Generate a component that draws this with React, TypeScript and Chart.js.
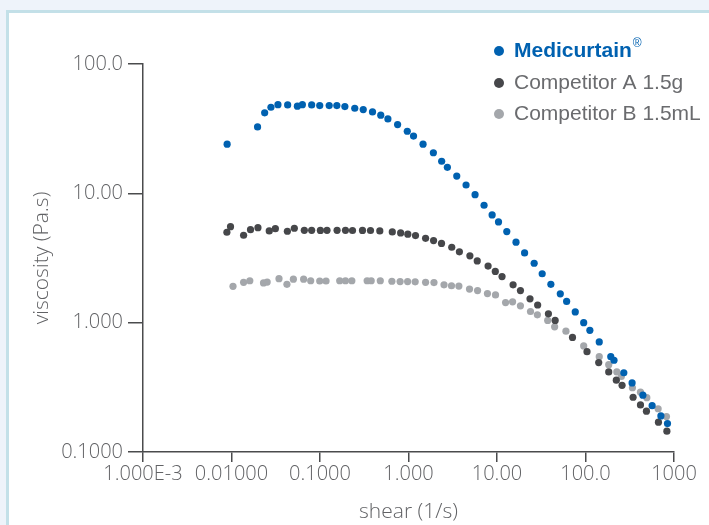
import React, { useEffect, useRef } from "react";
import { Chart, registerables } from "chart.js";

Chart.register(...registerables);

const seriesNames = ["Medicurtain", "Competitor A 1.5g", "Competitor B 1.5mL"];
const seriesColors = ["#0061b0", "#46474a", "#a4a7ab"];

const xTickValues = [0.001, 0.01, 0.1, 1, 10, 100, 1000];
const xTickLabels = ["1.000E-3", "0.01000", "0.1000", "1.000", "10.00", "100.0", "1000"];
const yTickValues = [0.1, 1, 10, 100];
const yTickLabels = ["0.1000", "1.000", "10.00", "100.0"];

const medX = [0.00893, 0.0197, 0.0237, 0.0279, 0.0335, 0.0431, 0.0555, 0.0632, 0.0805, 0.0993, 0.127, 0.155, 0.191, 0.247, 0.308, 0.392, 0.486, 0.585, 0.753, 0.969, 1.14, 1.46, 1.91, 2.37, 2.75, 3.51, 4.47, 5.65, 7.14, 8.81, 10.4, 12.9, 16.4, 20.5, 26.3, 32.4, 40.6, 51.9, 61.2, 76.6, 95.4, 112, 143, 193, 210, 271, 336, 445, 566, 711, 844];
const medY = [24.0, 32.6, 41.9, 46.3, 48.5, 48.3, 47.2, 48.5, 48.3, 47.7, 47.7, 47.7, 46.9, 45.5, 44.4, 42.6, 40.2, 37.6, 34.0, 30.2, 27.7, 24.0, 20.6, 17.7, 15.9, 13.6, 11.6, 9.77, 8.09, 6.81, 6.01, 5.06, 4.19, 3.46, 2.88, 2.39, 1.98, 1.67, 1.46, 1.21, 1.0, 0.873, 0.71, 0.546, 0.512, 0.41, 0.342, 0.275, 0.228, 0.19, 0.166];

const aX = [0.00887, 0.00975, 0.0137, 0.0164, 0.0199, 0.0267, 0.0313, 0.0428, 0.0513, 0.0665, 0.0805, 0.101, 0.12, 0.156, 0.194, 0.233, 0.302, 0.372, 0.474, 0.656, 0.815, 0.982, 1.2, 1.56, 1.92, 2.36, 3.08, 3.76, 4.94, 5.98, 7.93, 9.57, 11.4, 15.2, 18.4, 23.6, 28.8, 38.1, 45.4, 71.3, 104, 141, 183, 223, 259, 345, 418, 488, 667, 831];
const aY = [5.0, 5.52, 4.74, 5.24, 5.43, 5.12, 5.33, 5.09, 5.37, 5.18, 5.18, 5.17, 5.18, 5.18, 5.18, 5.16, 5.17, 5.16, 5.12, 5.03, 4.94, 4.83, 4.71, 4.49, 4.31, 4.1, 3.83, 3.53, 3.29, 3.0, 2.74, 2.49, 2.27, 1.96, 1.77, 1.53, 1.37, 1.17, 1.04, 0.769, 0.597, 0.491, 0.416, 0.359, 0.328, 0.265, 0.231, 0.207, 0.17, 0.145];

const bX = [0.0104, 0.0137, 0.0161, 0.023, 0.0253, 0.0344, 0.0423, 0.05, 0.0653, 0.0785, 0.0993, 0.117, 0.167, 0.194, 0.229, 0.341, 0.379, 0.48, 0.649, 0.804, 0.977, 1.19, 1.56, 1.94, 2.52, 3.06, 3.71, 4.89, 6.03, 7.8, 9.62, 12.5, 15.0, 18.4, 23.9, 28.6, 37.4, 44.8, 60.1, 95.4, 143, 183, 226, 254, 339, 418, 493, 662, 822];
const bY = [1.91, 2.05, 2.11, 2.03, 2.06, 2.19, 1.98, 2.17, 2.17, 2.11, 2.1, 2.1, 2.11, 2.11, 2.11, 2.11, 2.11, 2.11, 2.09, 2.08, 2.08, 2.07, 2.05, 2.04, 1.96, 1.93, 1.92, 1.82, 1.77, 1.68, 1.64, 1.43, 1.45, 1.35, 1.22, 1.15, 1.04, 0.929, 0.859, 0.661, 0.546, 0.473, 0.416, 0.384, 0.314, 0.29, 0.263, 0.216, 0.188];

const W = 709;
const H = 525;
const AXIS_COLOR = "#4a4b4d";
const TEXT_COLOR = "#616265";
const LEGEND_TEXT = "#6a6b6e";
const TICK_FONT = { family: "'Open Sans', sans-serif", size: 20, weight: "300" as any };
const TITLE_FONT = { family: "'Open Sans', sans-serif", size: 21, weight: "300" as any };

const pts = (xs: number[], ys: number[]) => xs.map((x, i) => ({ x, y: ys[i] }));

const framePlugin = {
  id: "frame",
  beforeDraw(chart: any) {
    const ctx = chart.ctx;
    ctx.save();
    ctx.fillStyle = "#eef3fa";
    ctx.fillRect(0, 0, W, H);
    ctx.fillStyle = "#c3e0e8";
    ctx.fillRect(6, 10, W - 6, H - 10);
    ctx.fillStyle = "#ffffff";
    ctx.fillRect(9, 13, W - 9, H - 13);
    ctx.restore();
  },
};

const legendPlugin = {
  id: "customLegend",
  afterDraw(chart: any) {
    const ctx = chart.ctx;
    ctx.save();
    const rows = [51, 83, 114];
    const dotX = 499;
    const textX = 514;
    rows.forEach((y, i) => {
      ctx.fillStyle = seriesColors[i];
      ctx.beginPath();
      ctx.arc(dotX, y, 5, 0, Math.PI * 2);
      ctx.fill();
      ctx.textBaseline = "middle";
      ctx.textAlign = "left";
      if (i === 0) {
        ctx.font = "bold 21px 'Liberation Sans', Arial, sans-serif";
        ctx.fillStyle = seriesColors[0];
        ctx.fillText(seriesNames[0], textX, y);
        const w = ctx.measureText(seriesNames[0]).width;
        ctx.font = "12px 'Liberation Sans', Arial, sans-serif";
        ctx.fillText("®", textX + w + 1, y - 7);
      } else {
        ctx.font = "21px 'Liberation Sans', Arial, sans-serif";
        ctx.fillStyle = LEGEND_TEXT;
        ctx.fillText(seriesNames[i], textX, y);
      }
    });
    ctx.restore();
  },
};

export default function App() {
  const ref = useRef<HTMLCanvasElement | null>(null);

  useEffect(() => {
    if (!ref.current) return;
    const mk = (i: number, data: any[]) => ({
      label: seriesNames[i],
      data,
      backgroundColor: seriesColors[i],
      borderColor: seriesColors[i],
      pointRadius: 3.6,
      pointBorderWidth: 0,
      pointHoverRadius: 3.6,
      showLine: false,
    });
    const chart = new Chart(ref.current, {
      type: "scatter",
      data: {
        datasets: [mk(0, pts(medX, medY)), mk(1, pts(aX, aY)), mk(2, pts(bX, bY))],
      },
      options: {
        responsive: false,
        animation: false,
        events: [],
        layout: { padding: { top: 64, right: 35, left: 0, bottom: 0 } },
        plugins: { legend: { display: false }, tooltip: { enabled: false } },
        scales: {
          x: {
            type: "logarithmic",
            min: 0.001,
            max: 1000,
            afterBuildTicks: (s: any) => {
              s.ticks = xTickValues.map((v) => ({ value: v }));
            },
            afterFit: (s: any) => {
              s.height = H - 452;
            },
            ticks: {
              autoSkip: false,
              maxRotation: 0,
              padding: 0,
              color: TEXT_COLOR,
              font: TICK_FONT,
              callback: (_v: any, i: number) => xTickLabels[i],
            },
            grid: {
              display: true,
              drawOnChartArea: false,
              drawTicks: true,
              tickLength: 10,
              color: AXIS_COLOR,
              lineWidth: 1.5,
            },
            border: { display: true, color: AXIS_COLOR, width: 1.5 },
            title: {
              display: true,
              text: "shear (1/s)",
              color: TEXT_COLOR,
              font: TITLE_FONT,
              padding: { top: 0, bottom: 0 },
            },
          },
          y: {
            type: "logarithmic",
            min: 0.1,
            max: 100,
            afterBuildTicks: (s: any) => {
              s.ticks = yTickValues.map((v) => ({ value: v }));
            },
            afterFit: (s: any) => {
              s.width = 143;
            },
            ticks: {
              autoSkip: false,
              padding: 5,
              color: TEXT_COLOR,
              font: TICK_FONT,
              callback: (_v: any, i: number) => yTickLabels[i],
            },
            grid: {
              display: true,
              drawOnChartArea: false,
              drawTicks: true,
              tickLength: 15,
              color: AXIS_COLOR,
              lineWidth: 1.5,
            },
            border: { display: true, color: AXIS_COLOR, width: 1.5 },
            title: {
              display: true,
              text: "viscosity (Pa.s)",
              color: TEXT_COLOR,
              font: TITLE_FONT,
              padding: { top: 29, bottom: 0 },
            },
          },
        },
      },
      plugins: [framePlugin, legendPlugin],
    } as any);
    return () => chart.destroy();
  }, []);

  return (
    <div style={{ position: "absolute", left: 0, top: 0, width: W, height: H }}>
      <canvas ref={ref} width={W} height={H} style={{ display: "block" }} />
    </div>
  );
}
